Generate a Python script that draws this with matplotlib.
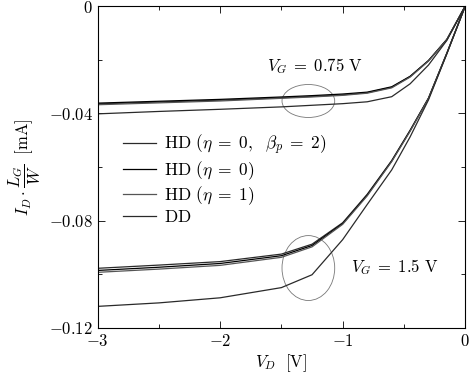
import matplotlib
matplotlib.use("Agg")
import matplotlib.pyplot as plt
from matplotlib.patches import Ellipse
import matplotlib.ticker as ticker

plt.rcParams['mathtext.fontset'] = 'cm'
plt.rcParams['font.family'] = 'serif'
plt.rcParams['font.serif'] = ['DejaVu Serif']
plt.rcParams['font.size'] = 12

# drain voltage (V)
vd = [-3.0, -2.5, -2.0, -1.5, -1.25, -1.0, -0.8, -0.6, -0.45, -0.3, -0.15, 0.0]

# V_G = 0.75 V
hd_beta_075 = [-0.0365, -0.0358, -0.0351, -0.0342, -0.0337, -0.0331, -0.0323, -0.0303, -0.0263, -0.0204, -0.0125, 0.0]
hd_eta0_075 = [-0.0362, -0.0355, -0.0348, -0.0339, -0.0334, -0.0328, -0.0321, -0.0301, -0.0262, -0.0203, -0.0124, 0.0]
hd_eta1_075 = [-0.0368, -0.0361, -0.0354, -0.0344, -0.0339, -0.0333, -0.0325, -0.0305, -0.0265, -0.0205, -0.0125, 0.0]
dd_075 = [-0.0402, -0.0393, -0.0385, -0.0376, -0.0370, -0.0364, -0.0357, -0.0338, -0.0290, -0.0220, -0.0128, 0.0]

# V_G = 1.5 V
hd_beta_15 = [-0.0978, -0.0966, -0.0953, -0.0925, -0.0888, -0.0808, -0.0702, -0.0576, -0.0463, -0.0343, -0.0175, 0.0]
hd_eta0_15 = [-0.0986, -0.0974, -0.0960, -0.0931, -0.0893, -0.0811, -0.0705, -0.0578, -0.0465, -0.0344, -0.0176, 0.0]
hd_eta1_15 = [-0.0993, -0.0981, -0.0967, -0.0937, -0.0898, -0.0814, -0.0708, -0.0580, -0.0467, -0.0345, -0.0177, 0.0]
dd_15 = [-0.1120, -0.1107, -0.1088, -0.1050, -0.1002, -0.0871, -0.0740, -0.0611, -0.0488, -0.0350, -0.0178, 0.0]

labels = [r'$\mathrm{HD}\ (\eta\;=\;0,\ \ \beta_p\;=\;2)$', r'$\mathrm{HD}\ (\eta\;=\;0)$',
          r'$\mathrm{HD}\ (\eta\;=\;1)$', r'$\mathrm{DD}$']
colors = ['#2a2a2a', 'black', '#555555', '#2a2a2a']

xticks = [-3, -2, -1, 0]
xticklabels = [r'$-3$', r'$-2$', r'$-1$', r'$0$']
yticks = [-0.12, -0.08, -0.04, 0]
yticklabels = [r'$-0.12$', r'$-0.08$', r'$-0.04$', r'$0$']

fig = plt.figure(figsize=(4.69, 3.79), dpi=100)
ax = fig.add_axes([0.208, 0.135, 0.784, 0.849])

for ys, c, lab in zip([hd_beta_075, hd_eta0_075, hd_eta1_075, dd_075], colors, labels):
    ax.plot(vd, ys, color=c, lw=0.9, label=lab)
for ys, c in zip([hd_beta_15, hd_eta0_15, hd_eta1_15, dd_15], colors):
    ax.plot(vd, ys, color=c, lw=0.9)

# ellipses marking the two gate-voltage groups
ax.add_patch(Ellipse((-1.28, -0.0354), 0.43, 0.0123, fill=False, ec='#777777', lw=0.6))
ax.add_patch(Ellipse((-1.28, -0.0977), 0.43, 0.0242, fill=False, ec='#777777', lw=0.6))
ax.text(-1.23, -0.0222, r'$V_G\;=\;0.75\ \mathrm{V}$', ha='center', va='center', fontsize=12)
ax.text(-0.58, -0.0975, r'$V_G\;=\;1.5\ \mathrm{V}$', ha='center', va='center', fontsize=12)

ax.set_xlim(-3, 0)
ax.set_ylim(-0.12, 0)
ax.set_xticks(xticks)
ax.set_xticklabels(xticklabels)
ax.set_yticks(yticks)
ax.set_yticklabels(yticklabels)
ax.xaxis.set_minor_locator(ticker.MultipleLocator(0.5))
ax.yaxis.set_minor_locator(ticker.MultipleLocator(0.02))
ax.tick_params(which='both', direction='in', top=True, right=True, labelsize=12)
ax.tick_params(which='major', length=5, width=0.6)
ax.tick_params(which='minor', length=3, width=0.6)
for s in ax.spines.values():
    s.set_linewidth(0.8)

ax.set_xlabel(r'$V_D\ \ [\mathrm{V}]$', fontsize=12, labelpad=2)
ax.set_ylabel(r'$I_D \cdot \dfrac{L_G}{W}\ \ [\mathrm{mA}]$', fontsize=12, labelpad=4)

leg = ax.legend(loc='upper left', bbox_to_anchor=(0.068, 0.605), frameon=False,
                borderpad=0, borderaxespad=0, handlelength=1.9, handletextpad=0.5,
                labelspacing=0.12, fontsize=12.5)

fig.savefig('out.png', dpi=100)
